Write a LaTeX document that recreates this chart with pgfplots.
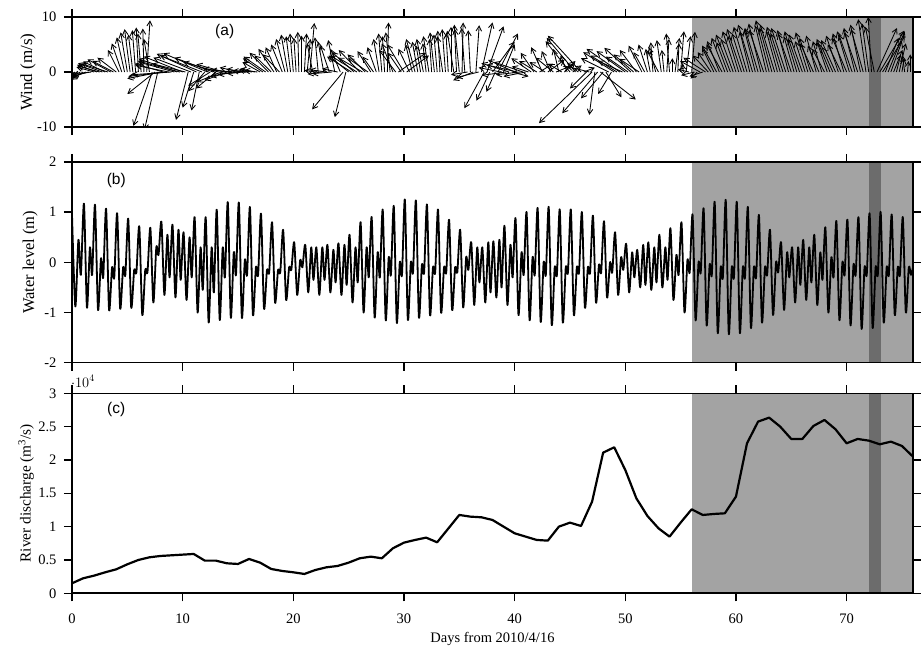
\documentclass[border=0pt]{standalone}
\usepackage{fontspec}
\setmainfont{Liberation Serif}
\newfontfamily\panelfont{Liberation Sans}
\newfontfamily\symfont{DejaVu Sans}
\usepackage{pgfplots}
\pgfplotsset{compat=1.18}
\usetikzlibrary{arrows.meta}
\definecolor{shade}{RGB}{163,163,163}
\definecolor{shadedark}{RGB}{108,108,108}
\newcommand{\lab}{\fontsize{14.5}{17}\selectfont}

\tikzset{paneltag/.style={font=\panelfont\fontsize{15.5}{18}\selectfont}}

\pgfplotsset{
  panel/.style={
    scale only axis, width=841pt, xmin=0, xmax=76,
    axis on top, tick align=outside, xtick pos=both, ytick pos=both,
    xtick={0,10,...,70},
    major tick length=8pt,
    major tick style={line width=1.4pt, black},
    axis line style={line width=1.6pt},
    tick label style={font=\lab},
    yticklabel style={xshift=-4pt},
    xticklabel style={yshift=-9pt},
  },
  shadebox/.style={draw=none, fill=shade, forget plot},
  shadeband/.style={draw=none, fill=shadedark, forget plot},
}

\begin{document}
\begin{tikzpicture}
\useasboundingbox (0,0) rectangle (922pt,-647pt);

% ---------------- (a) wind vectors ----------------
\begin{axis}[panel, at={(72pt,-17pt)}, anchor=north west, height=110pt,
  ymin=-10, ymax=10, ytick={-10,0,10}, yticklabels={-10,0,10},
  xticklabels={},
  ylabel={Wind (m/s)},
  ylabel style={at={(axis description cs:-0.0523,0.5)}, anchor=center,
    font=\fontsize{17}{19}\selectfont}]
\addplot[shadebox] coordinates {(56,-10) (76,-10) (76,10) (56,10)};
\addplot[shadeband] coordinates {(72,-10) (73.1,-10) (73.1,10) (72,10)};
\addplot[black, line width=0.85pt, -{Straight Barb[length=5pt,width=5.5pt]},
  quiver={u=\thisrow{u}, v=\thisrow{v}}]
  table[row sep=\\, x=t, y expr=0] {
t u v\\
0 -0.2 -0.8\\ 0.25 -0.4 -1.0\\ 0.5 -0.7 -1.2\\ 0.75 -0.9 -1.0\\
1 -1.1 -1.4\\ 1.25 -1.3 -1.1\\ 1.5 -1.5 -0.8\\ 1.75 -1.7 -0.5\\
2 -1.6 0.9\\ 2.25 -1.8 1.3\\ 2.5 -2.0 1.1\\ 2.75 -2.2 1.6\\
3 -2.0 1.9\\ 3.25 -2.4 1.5\\ 3.5 -2.1 2.3\\ 3.75 -1.9 2.0\\
4 -1.7 2.6\\ 4.25 -1.0 4.0\\ 4.5 -0.9 5.2\\ 4.75 -0.7 6.3\\
5 -0.6 7.2\\ 5.25 -0.5 7.8\\ 5.5 -0.4 6.8\\ 5.75 -0.3 7.6\\
6 -0.2 8.1\\ 6.25 -0.3 7.0\\ 6.5 -0.1 7.9\\ 6.75 0.3 9.4\\
7 -0.5 6.0\\ 7.25 -1.7 -9.8\\ 7.5 -2.5 -4.0\\ 7.75 -1.2 -10.5\\
8 -3.0 -1.2\\ 8.25 -2.6 1.5\\ 8.5 -3.4 -0.8\\ 8.75 -3.0 1.2\\
9 -3.6 -0.5\\ 9.25 -3.2 1.8\\ 9.5 -3.5 2.4\\ 9.75 -3.8 2.0\\
10 -3.5 2.8\\ 10.25 -3.0 1.5\\ 10.5 -1.1 -8.7\\ 10.75 -3.4 2.6\\
11 -1.0 -6.5\\ 11.25 -3.6 3.3\\ 11.5 -0.7 -7.0\\ 11.75 -3.8 3.0\\
12 -1.5 -3.5\\ 12.25 -4.0 3.4\\ 12.5 -2.0 -2.5\\ 12.75 -3.5 2.6\\
13 -1.8 -3.0\\ 13.25 -3.2 1.8\\ 13.5 -2.2 -1.8\\ 13.75 -2.5 1.4\\
14 -2.0 -1.5\\ 14.25 -2.4 0.6\\ 14.5 -2.0 -0.8\\ 14.75 -2.2 0.3\\
15 -1.8 -0.5\\ 15.25 -1.9 0.8\\ 15.5 -1.5 -0.3\\ 15.75 -1.8 0.5\\
16 -1.5 0.2\\ 16.25 -1.2 0.4\\ 16.5 -1.3 0.6\\ 16.75 -1.2 0.3\\
17 -1.6 1.8\\ 17.25 -1.8 2.5\\ 17.5 -2.0 2.8\\ 17.75 -1.7 3.5\\
18 -1.5 3.0\\ 18.25 -1.4 4.2\\ 18.5 -1.0 4.5\\ 18.75 -1.5 3.2\\
19 -1.0 5.0\\ 19.25 -0.8 6.0\\ 19.5 -0.6 6.8\\ 19.75 -0.4 6.5\\
20 -0.3 7.0\\ 20.25 -0.2 6.2\\ 20.5 -0.1 7.3\\ 20.75 0.0 6.6\\
21 0.2 7.0\\ 21.25 0.3 6.0\\ 21.5 0.4 8.9\\ 21.75 -0.5 5.2\\
22 -1.0 0.3\\ 22.25 -0.3 6.3\\ 22.5 -1.2 -0.4\\ 22.75 -0.5 5.5\\
23 -1.5 0.4\\ 23.25 -0.8 4.8\\ 23.5 -1.8 -0.3\\ 23.75 -0.6 5.8\\
24 -1.4 0.6\\ 24.25 -0.9 4.2\\ 24.5 -2.8 -6.8\\ 24.75 -1.0 -8.2\\
25 -1.8 3.0\\ 25.25 -2.2 2.8\\ 25.5 -2.0 3.6\\ 25.75 -2.4 3.0\\
26 -1.9 4.0\\ 26.25 -2.2 2.6\\ 26.5 -1.6 3.2\\ 26.75 -1.8 2.5\\
27 -1.2 3.8\\ 27.25 -1.0 2.8\\ 27.5 -0.8 4.5\\ 27.75 -0.5 6.0\\
28 -0.3 7.0\\ 28.25 -0.2 6.5\\ 28.5 0.1 9.0\\ 28.75 -0.4 7.2\\
29 -1.0 5.2\\ 29.25 -1.5 4.0\\ 29.5 2.5 3.5\\ 29.75 -1.2 3.5\\
30 -1.5 5.0\\ 30.25 2.0 3.0\\ 30.5 -1.0 4.2\\ 30.75 -0.6 5.0\\
31 -0.8 6.0\\ 31.25 -0.5 5.5\\ 31.5 -0.4 4.8\\ 31.75 -0.6 6.0\\
32 -0.3 5.2\\ 32.25 -0.5 6.5\\ 32.5 -0.2 6.0\\ 32.75 -0.4 7.2\\
33 -0.3 6.8\\ 33.25 -0.2 7.5\\ 33.5 -0.5 6.5\\ 33.75 -0.3 7.8\\
34 -0.2 7.0\\ 34.25 0.0 8.2\\ 34.5 -0.6 7.5\\ 34.75 -0.2 8.6\\
35 -0.4 7.8\\ 35.25 0.1 9.0\\ 35.5 -0.3 8.0\\ 35.75 -1.5 -0.5\\
36 -0.2 7.6\\ 36.25 -1.8 -1.5\\ 36.5 0.3 8.5\\ 36.75 -2.0 -1.0\\
37 1.0 9.0\\ 37.25 -1.8 -6.6\\ 37.5 1.5 8.3\\ 37.75 -1.2 -5.2\\
38 2.0 5.5\\ 38.25 -0.8 -3.6\\ 38.5 1.8 7.0\\ 38.75 -2.0 0.8\\
39 1.0 5.0\\ 39.25 -2.2 -0.6\\ 39.5 -2.5 1.6\\ 39.75 1.5 -0.8\\
40 -2.4 2.2\\ 40.25 -2.8 1.3\\ 40.5 -2.2 -0.5\\ 40.75 -2.6 1.8\\
41 -2.0 -0.8\\ 41.25 -1.5 1.0\\ 41.5 -1.8 2.5\\ 41.75 -1.2 3.5\\
42 -1.6 2.0\\ 42.25 1.2 1.5\\ 42.5 -1.0 4.5\\ 42.75 -1.4 1.8\\
43 1.5 2.2\\ 43.25 -0.8 3.8\\ 43.5 -1.6 2.6\\ 43.75 1.2 1.0\\
44 -0.5 4.2\\ 44.25 -1.2 1.5\\ 44.5 1.0 2.0\\ 44.75 -0.6 3.0\\
45 -2.2 5.6\\ 45.25 0.8 1.2\\ 45.5 -2.6 6.2\\ 45.75 -1.0 1.6\\
46 -3.0 6.6\\ 46.25 1.0 0.8\\ 46.5 -1.5 -3.0\\ 46.75 -2.0 1.0\\
47 -4.8 -9.3\\ 47.25 -0.5 -7.8\\ 47.5 -3.2 -7.5\\ 47.75 3.2 -5.0\\
48 -2.0 -4.8\\ 48.25 1.4 -4.6\\ 48.5 -2.5 2.5\\ 48.75 -1.2 -4.0\\
49 -2.8 3.6\\ 49.25 -2.4 3.0\\ 49.5 -3.0 4.2\\ 49.75 -2.2 2.0\\
50 -2.6 3.8\\ 50.25 -2.0 2.8\\ 50.5 -2.4 4.4\\ 50.75 -1.8 3.2\\
51 -1.5 4.0\\ 51.25 -1.8 2.4\\ 51.5 -1.2 4.8\\ 51.75 -1.0 3.6\\
52 -0.8 5.0\\ 52.25 -0.4 4.2\\ 52.5 -0.2 5.4\\ 52.75 -0.6 4.5\\
53 -1.0 3.8\\ 53.25 -0.4 5.8\\ 53.5 -0.2 4.0\\ 53.75 0.2 6.0\\
54 -0.3 7.0\\ 54.25 0.0 2.5\\ 54.5 0.4 6.2\\ 54.75 0.1 5.2\\
55 0.3 7.4\\ 55.25 -0.1 1.5\\ 55.5 0.4 6.5\\ 55.75 -1.0 0.5\\
56 0.3 7.3\\ 56.25 -1.2 -0.6\\ 56.5 -0.6 -1.2\\ 56.75 -1.8 2.0\\
57 -1.2 -0.8\\ 57.25 -2.0 2.6\\ 57.5 -1.4 3.0\\ 57.75 -1.2 3.6\\
58 -1.0 4.2\\ 58.25 -1.3 4.8\\ 58.5 -1.1 5.6\\ 58.75 -1.4 5.0\\
59 -1.2 6.2\\ 59.25 -1.0 5.4\\ 59.5 -1.3 6.8\\ 59.75 -1.1 6.0\\
60 -1.2 7.4\\ 60.25 -1.0 6.6\\ 60.5 -1.3 7.8\\ 60.75 -1.1 7.0\\
61 -1.2 8.2\\ 61.25 -0.9 7.4\\ 61.5 -1.3 8.6\\ 61.75 -1.0 7.8\\
62 -1.2 8.0\\ 62.25 -1.1 8.8\\ 62.5 -1.3 7.6\\ 62.75 -1.0 8.4\\
63 -1.2 9.4\\ 63.25 -1.1 8.0\\ 63.5 -1.3 8.6\\ 63.75 -1.0 7.4\\
64 -1.2 8.2\\ 64.25 -1.1 7.0\\ 64.5 -1.3 8.0\\ 64.75 -1.0 7.6\\
65 -1.2 7.0\\ 65.25 -0.9 6.4\\ 65.5 -1.1 7.4\\ 65.75 -1.0 6.0\\
66 -1.2 6.8\\ 66.25 -0.9 5.6\\ 66.5 -1.1 7.2\\ 66.75 -1.0 6.2\\
67 -1.2 5.2\\ 67.25 -0.9 6.6\\ 67.5 -1.0 4.8\\ 67.75 -0.8 5.6\\
68 -1.1 4.2\\ 68.25 -0.9 5.4\\ 68.5 -1.2 6.0\\ 68.75 -1.0 4.6\\
69 -1.3 5.8\\ 69.25 -1.1 6.6\\ 69.5 -1.2 5.0\\ 69.75 -1.0 7.0\\
70 -1.3 6.2\\ 70.25 -1.1 7.4\\ 70.5 -1.2 6.8\\ 70.75 -1.0 8.0\\
71 -1.2 7.2\\ 71.25 -0.9 8.6\\ 71.5 -1.1 7.8\\ 71.75 -0.7 9.6\\
72 -0.6 8.8\\ 72.25 -0.3 10.0\\ 72.5 -0.8 8.2\\ 72.75 1.8 8.0\\
73 2.2 7.5\\ 73.25 2.0 6.5\\ 73.5 1.2 6.2\\ 73.75 1.5 7.4\\
74 1.0 5.6\\ 74.25 0.8 4.0\\ 74.5 0.4 3.2\\ 74.75 0.6 5.2\\
75 0.2 2.5\\ 75.25 -0.2 3.0\\ 75.5 0.1 2.0\\ 75.75 0.0 3.2\\
};
\node[paneltag] at (axis cs:13.8,7.3) {(a)};
\end{axis}

% ---------------- (b) water level ----------------
\begin{axis}[panel, at={(72pt,-162pt)}, anchor=north west, height=200.7pt,
  ymin=-2, ymax=2, ytick={-2,-1,0,1,2}, yticklabels={-2,-1,0,1,2},
  xticklabels={},
  ylabel={Water level (m)},
  ylabel style={at={(axis description cs:-0.0499,0.5)}, anchor=center,
    font=\fontsize{16.5}{19}\selectfont}]
\addplot[shadebox] coordinates {(56,-2) (76,-2) (76,2) (56,2)};
\addplot[shadeband] coordinates {(72,-2) (73.1,-2) (73.1,2) (72,2)};
\addplot[black, line width=1.8pt, line join=round, smooth, tension=0.45]
  table[row sep=\\] {
t h\\
0.00 0.95\\ 0.30 -0.88\\ 0.58 0.45\\ 0.80 -0.25\\
1.08 1.17\\ 1.35 -0.90\\ 1.62 0.30\\ 1.82 -0.25\\
2.08 1.15\\ 2.35 -0.95\\ 2.62 0.08\\ 2.82 -0.30\\
3.08 1.07\\ 3.35 -0.95\\ 3.62 -0.10\\ 3.82 -0.30\\
4.08 0.98\\ 4.35 -0.92\\ 4.62 -0.10\\ 4.82 -0.25\\
5.08 0.87\\ 5.35 -0.90\\ 5.62 -0.15\\ 5.82 -0.20\\
6.08 0.72\\ 6.35 -1.05\\ 6.62 -0.15\\ 6.82 -0.20\\
7.08 0.69\\ 7.35 -0.80\\ 7.62 0.30\\ 7.82 0.15\\
8.08 0.81\\ 8.35 -0.65\\ 8.62 0.55\\ 8.82 -0.30\\
9.08 0.75\\ 9.35 -0.70\\ 9.62 0.65\\ 9.82 -0.35\\
10.08 0.60\\ 10.35 -0.75\\ 10.62 0.50\\ 10.82 -0.30\\
11.08 0.90\\ 11.35 -1.00\\ 11.62 0.30\\ 11.82 -0.55\\
12.08 0.90\\ 12.35 -1.20\\ 12.62 0.30\\ 12.82 -0.60\\
13.08 1.05\\ 13.35 -1.15\\ 13.62 0.30\\ 13.82 -0.30\\
14.08 1.20\\ 14.35 -1.10\\ 14.62 0.20\\ 14.82 -0.25\\
15.08 1.19\\ 15.35 -1.10\\ 15.62 0.05\\ 15.82 -0.25\\
16.08 1.10\\ 16.35 -1.05\\ 16.62 -0.10\\ 16.82 -0.25\\
17.08 0.97\\ 17.35 -0.92\\ 17.62 -0.15\\ 17.82 -0.20\\
18.08 0.80\\ 18.35 -0.80\\ 18.62 -0.15\\ 18.82 -0.20\\
19.08 0.65\\ 19.35 -0.75\\ 19.62 -0.10\\ 19.82 -0.15\\
20.08 0.40\\ 20.35 -0.65\\ 20.62 0.05\\ 20.82 -0.10\\
21.08 0.35\\ 21.35 -0.60\\ 21.62 0.30\\ 21.82 -0.35\\
22.08 0.30\\ 22.35 -0.65\\ 22.62 0.30\\ 22.82 -0.35\\
23.08 0.35\\ 23.35 -0.60\\ 23.62 0.25\\ 23.82 -0.40\\
24.08 0.38\\ 24.35 -0.65\\ 24.62 0.35\\ 24.82 -0.45\\
25.08 0.55\\ 25.35 -0.80\\ 25.62 0.30\\ 25.82 -0.40\\
26.08 0.80\\ 26.35 -1.00\\ 26.62 0.30\\ 26.82 -0.30\\
27.08 0.90\\ 27.35 -1.10\\ 27.62 0.20\\ 27.82 -0.30\\
28.08 1.05\\ 28.35 -1.15\\ 28.62 0.10\\ 28.82 -0.25\\
29.08 1.12\\ 29.35 -1.20\\ 29.62 0.00\\ 29.82 -0.25\\
30.08 1.25\\ 30.35 -1.15\\ 30.62 0.00\\ 30.82 -0.20\\
31.08 1.23\\ 31.35 -1.10\\ 31.62 -0.05\\ 31.82 -0.20\\
32.08 1.15\\ 32.35 -1.05\\ 32.62 -0.10\\ 32.82 -0.20\\
33.08 1.05\\ 33.35 -1.00\\ 33.62 -0.10\\ 33.82 -0.20\\
34.08 0.85\\ 34.35 -0.95\\ 34.62 -0.10\\ 34.82 -0.20\\
35.08 0.65\\ 35.35 -0.90\\ 35.62 0.10\\ 35.82 -0.15\\
36.08 0.40\\ 36.35 -0.85\\ 36.62 0.30\\ 36.82 -0.40\\
37.08 0.30\\ 37.35 -0.80\\ 37.62 0.40\\ 37.82 -0.60\\
38.08 0.42\\ 38.35 -0.70\\ 38.62 0.45\\ 38.82 -0.50\\
39.08 0.73\\ 39.35 -0.85\\ 39.62 0.35\\ 39.82 -0.30\\
40.08 0.88\\ 40.35 -1.05\\ 40.62 0.20\\ 40.82 -0.25\\
41.08 1.00\\ 41.35 -1.15\\ 41.62 0.10\\ 41.82 -0.25\\
42.08 1.08\\ 42.35 -1.18\\ 42.62 0.00\\ 42.82 -0.25\\
43.08 1.10\\ 43.35 -1.25\\ 43.62 -0.10\\ 43.82 -0.25\\
44.08 1.05\\ 44.35 -1.20\\ 44.62 -0.10\\ 44.82 -0.20\\
45.08 1.05\\ 45.35 -1.05\\ 45.62 -0.10\\ 45.82 -0.20\\
46.08 1.00\\ 46.35 -0.90\\ 46.62 -0.10\\ 46.82 -0.20\\
47.08 0.93\\ 47.35 -0.80\\ 47.62 -0.05\\ 47.82 -0.20\\
48.08 0.82\\ 48.35 -0.70\\ 48.62 0.00\\ 48.82 -0.20\\
49.08 0.60\\ 49.35 -0.65\\ 49.62 0.10\\ 49.82 -0.15\\
50.08 0.37\\ 50.35 -0.60\\ 50.62 0.20\\ 50.82 -0.30\\
51.08 0.25\\ 51.35 -0.50\\ 51.62 0.35\\ 51.82 -0.45\\
52.08 0.40\\ 52.35 -0.55\\ 52.62 0.30\\ 52.82 -0.40\\
53.08 0.55\\ 53.35 -0.50\\ 53.62 0.30\\ 53.82 -0.35\\
54.08 0.68\\ 54.35 -0.75\\ 54.62 0.15\\ 54.82 -0.25\\
55.08 0.80\\ 55.35 -1.00\\ 55.62 0.05\\ 55.82 -0.20\\
56.08 0.95\\ 56.35 -1.15\\ 56.62 0.00\\ 56.82 -0.20\\
57.08 1.07\\ 57.35 -1.25\\ 57.62 -0.05\\ 57.82 -0.25\\
58.08 1.20\\ 58.35 -1.40\\ 58.62 -0.10\\ 58.82 -0.30\\
59.08 1.24\\ 59.35 -1.42\\ 59.62 -0.10\\ 59.82 -0.30\\
60.08 1.20\\ 60.35 -1.40\\ 60.62 -0.10\\ 60.82 -0.30\\
61.08 1.10\\ 61.35 -1.30\\ 61.62 -0.10\\ 61.82 -0.30\\
62.08 0.94\\ 62.35 -1.20\\ 62.62 -0.10\\ 62.82 -0.25\\
63.08 0.65\\ 63.35 -1.05\\ 63.62 0.00\\ 63.82 -0.20\\
64.08 0.40\\ 64.35 -0.95\\ 64.62 0.20\\ 64.82 -0.30\\
65.08 0.30\\ 65.35 -0.80\\ 65.62 0.30\\ 65.82 -0.45\\
66.08 0.45\\ 66.35 -0.75\\ 66.62 0.30\\ 66.82 -0.40\\
67.08 0.55\\ 67.35 -0.85\\ 67.62 0.20\\ 67.82 -0.35\\
68.08 0.70\\ 68.35 -1.00\\ 68.62 0.10\\ 68.82 -0.30\\
69.08 0.82\\ 69.35 -1.15\\ 69.62 0.00\\ 69.82 -0.25\\
70.08 0.85\\ 70.35 -1.25\\ 70.62 -0.05\\ 70.82 -0.25\\
71.08 0.90\\ 71.35 -1.32\\ 71.62 -0.10\\ 71.82 -0.25\\
72.08 0.97\\ 72.35 -1.30\\ 72.62 -0.10\\ 72.82 -0.25\\
73.08 1.00\\ 73.35 -1.20\\ 73.62 -0.10\\ 73.82 -0.25\\
74.08 0.95\\ 74.35 -1.05\\ 74.62 -0.10\\ 74.82 -0.25\\
75.08 0.90\\ 75.35 -1.00\\ 75.62 -0.10\\ 75.82 -0.25\\
76.00 -0.10\\
};
\node[paneltag] at (axis cs:4.0,1.63) {(b)};
\end{axis}

% ---------------- (c) river discharge ----------------
\begin{axis}[panel, at={(72pt,-393.3pt)}, anchor=north west, height=200pt,
  ymin=0, ymax=30000, ytick={0,5000,...,30000},
  yticklabels={0,0.5,1,1.5,2,2.5,3},
  xticklabels={0,10,20,30,40,50,60,70},
  xlabel={Days from 2010/4/16},
  xlabel style={at={(axis description cs:0.5,0)}, anchor=base, yshift=-48.8pt,
    font=\lab},
  ylabel={River discharge (m\textsuperscript{3}/s)},
  ylabel style={at={(axis description cs:-0.0547,0.5)}, anchor=center,
    font=\fontsize{15.3}{18}\selectfont}]
\addplot[shadebox] coordinates {(56,0) (76,0) (76,30000) (56,30000)};
\addplot[shadeband] coordinates {(72,0) (73.1,0) (73.1,30000) (72,30000)};
\addplot[black, line width=2.2pt, line join=round] table[row sep=\\] {
t q\\
0 1500\\ 1 2250\\ 2 2650\\ 3 3150\\ 4 3600\\ 5 4350\\ 6 5000\\ 7 5400\\
8 5600\\ 9 5700\\ 10 5800\\ 11 5900\\ 12 4900\\ 13 4900\\ 14 4500\\ 15 4400\\
16 5150\\ 17 4600\\ 18 3650\\ 19 3350\\ 20 3150\\ 21 2900\\ 22 3500\\ 23 3900\\
24 4100\\ 25 4600\\ 26 5250\\ 27 5500\\ 28 5250\\ 29 6750\\ 30 7600\\ 31 8000\\
32 8350\\ 33 7650\\ 34 9700\\ 35 11750\\ 36 11500\\ 37 11400\\ 38 11000\\ 39 10000\\
40 9000\\ 41 8500\\ 42 8000\\ 43 7900\\ 44 10000\\ 45 10600\\ 46 10100\\ 47 13750\\
48 21100\\ 49 21900\\ 50 18500\\ 51 14250\\ 52 11600\\ 53 9750\\ 54 8500\\ 55 10600\\
56 12600\\ 57 11750\\ 58 11900\\ 59 12000\\ 60 14500\\ 61 22500\\ 62 25750\\ 63 26350\\
64 25000\\ 65 23150\\ 66 23150\\ 67 25100\\ 68 26000\\ 69 24600\\ 70 22500\\ 71 23150\\
72 22900\\ 73 22350\\ 74 22750\\ 75 22100\\ 76 20500\\
};
\node[paneltag] at (axis cs:4.0,27570) {(c)};
% exponent of the discharge axis: sign and power set side by side
\node[anchor=base west, inner sep=0pt, xshift=2pt, yshift=4pt,
  font=\symfont\fontsize{10}{12}\selectfont] at (rel axis cs:0,1) {×};
\node[anchor=base west, inner sep=0pt, xshift=10pt, yshift=4pt,
  font=\fontsize{12}{14}\selectfont] at (rel axis cs:0,1) {10\textsuperscript{4}};
\end{axis}
\end{tikzpicture}
\end{document}
